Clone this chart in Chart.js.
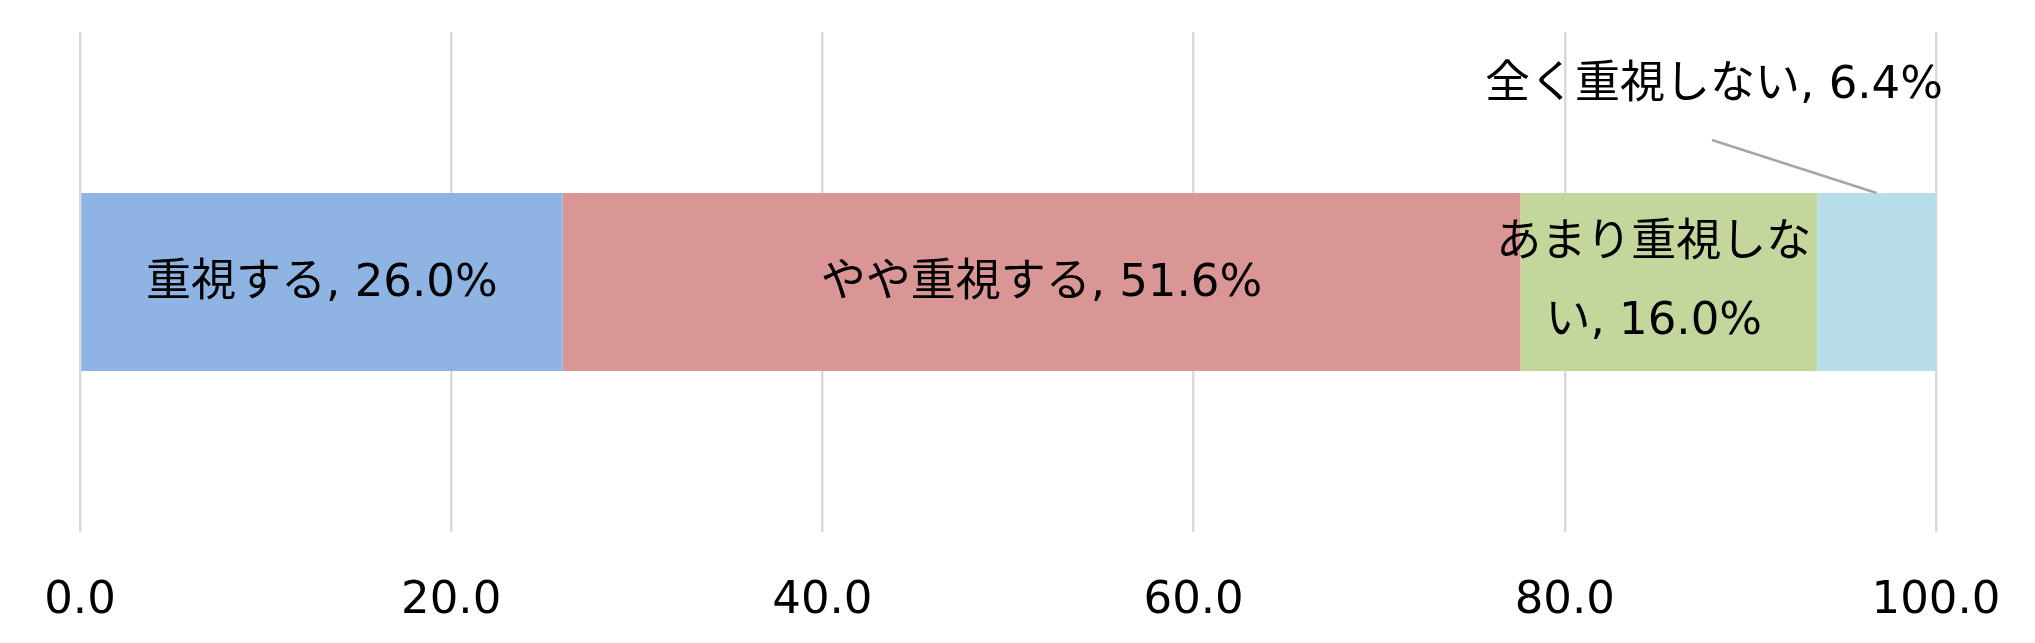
<!DOCTYPE html>
<html>
<head>
<meta charset="utf-8">
<script src="https://cdn.jsdelivr.net/npm/chart.js@4"></script>
<style>
  html, body { margin: 0; padding: 0; background: #fff; }
  #wrap { width: 2035px; height: 643px; }
</style>
</head>
<body>
<div id="wrap"><canvas id="chart"></canvas></div>
<script>
const categories = [''];
const seriesNames = ['重視する', 'やや重視する', 'あまり重視しない', '全く重視しない'];
const seriesValues = [26.0, 51.6, 16.0, 6.4];
const seriesColors = ['#8EB4E3', '#D99694', '#C3D69B', '#B7DEE8'];
const tickValues = [0, 20, 40, 60, 80, 100];

const FONT = '"DejaVu Sans", "Noto Sans CJK JP", sans-serif';
const LABEL_SIZE = 45;

// labels inside the segments, the last one outside with a leader line
const dataLabels = {
  id: 'dataLabels',
  afterDatasetsDraw(chart) {
    const ctx = chart.ctx;
    ctx.save();
    ctx.fillStyle = '#000';
    ctx.font = `${LABEL_SIZE}px ${FONT}`;
    ctx.textAlign = 'center';
    ctx.textBaseline = 'middle';
    chart.data.datasets.forEach((ds, i) => {
      const el = chart.getDatasetMeta(i).data[0];
      const text = `${seriesNames[i]}, ${ds.data[0].toFixed(1)}%`;
      const cx = (el.x + el.base) / 2;
      if (i === 3) {
        ctx.strokeStyle = '#a6a6a6';
        ctx.lineWidth = 2.5;
        ctx.beginPath();
        ctx.moveTo(el.x - 224, el.y - 142);
        ctx.lineTo(cx, el.y - el.height / 2);
        ctx.stroke();
        ctx.fillText(text, el.x - 222, el.y - 196);
      } else if (i === 2) {
        ctx.fillText('あまり重視しな', cx - 15, el.y - 38);
        ctx.fillText(`い, ${ds.data[0].toFixed(1)}%`, cx - 15, el.y + 40);
      } else {
        ctx.fillText(text, cx, el.y + 2);
      }
    });
    ctx.restore();
  }
};

new Chart(document.getElementById('chart'), {
  type: 'bar',
  data: {
    labels: categories,
    datasets: seriesNames.map((name, i) => ({
      label: name,
      data: [seriesValues[i]],
      backgroundColor: seriesColors[i],
      borderWidth: 0,
      barPercentage: 0.356,
      categoryPercentage: 1,
    })),
  },
  options: {
    indexAxis: 'y',
    responsive: true,
    maintainAspectRatio: false,
    animation: false,
    layout: { padding: { left: 80, right: 99, top: 32, bottom: 0 } },
    plugins: {
      legend: { display: false },
      tooltip: { enabled: false },
    },
    scales: {
      x: {
        stacked: true,
        min: 0,
        max: 100,
        afterBuildTicks: axis => { axis.ticks = tickValues.map(v => ({ value: v })); },
        afterFit: axis => {
          axis.height = 111;
          axis.paddingLeft = 0;
          axis.paddingRight = 0;
        },
        border: { display: false },
        grid: { color: '#d9d9d9', lineWidth: 2.5, drawTicks: false },
        ticks: {
          color: '#000',
          padding: 42,
          maxRotation: 0,
          font: { family: FONT, size: LABEL_SIZE },
          callback: v => v.toFixed(1),
        },
      },
      y: {
        stacked: true,
        display: false,
      },
    },
  },
  plugins: [dataLabels],
});
</script>
</body>
</html>
